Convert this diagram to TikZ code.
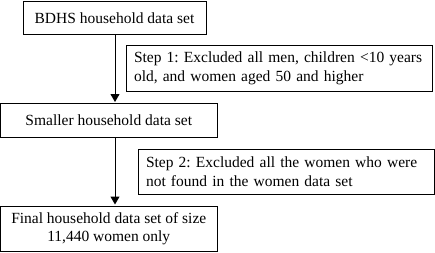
\documentclass[tikz,border=0pt]{standalone}
\usepackage{fontspec}
\setmainfont{Liberation Serif}
\usetikzlibrary{arrows.meta}
\frenchspacing

\begin{document}
\begin{tikzpicture}[x=1pt, y=-1pt,
    every node/.style={font=\fontsize{15.5pt}{18.5pt}\selectfont},
    databox/.style={draw, line width=1pt, align=center},
    stepbox/.style={draw, line width=1pt, align=left, inner xsep=8pt},
    flow/.style={-{Triangle[length=8pt,width=9pt]}, line width=1pt, shorten >=1pt}]
                \useasboundingbox (0,0) rectangle (435,252);

                % data sets
                \node[databox, minimum width=183pt, minimum height=32.5pt] (bdhs) at (114.5,17.75) {BDHS household data set};
                \node[databox, minimum width=216.5pt, minimum height=33.5pt] (smaller) at (108.75,120.25) {Smaller household data set};
                \node[databox, minimum width=216.5pt, minimum height=45.5pt] (final) at (108.75,228.75) {Final household data set of size\\11,440 women only};

                % steps
                \node[stepbox, text width=290pt, minimum height=45.5pt] (step1) at (279,68.25)
                    {Step 1: Excluded all men, children <10 years\\old, and women aged 50 and higher};
                \node[stepbox, text width=280pt, minimum height=45pt] (step2) at (286,171.5)
                    {Step 2: Excluded all the women who were\\not found in the women data set};

                \coordinate (spine) at (115,0);
                \draw[flow] (bdhs.south -| spine) -- (smaller.north -| spine);
                \draw[flow] (smaller.south -| spine) -- (final.north -| spine);
            \end{tikzpicture}
\end{document}
